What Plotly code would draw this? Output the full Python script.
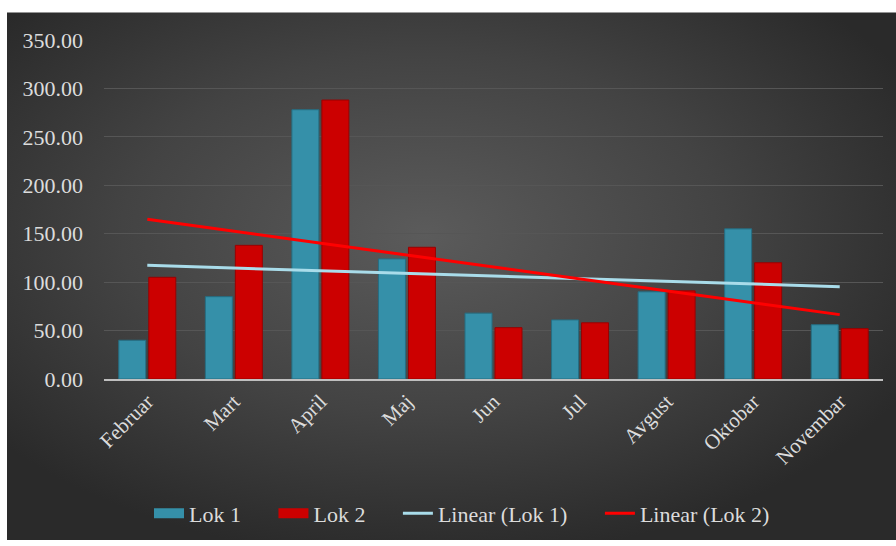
import base64
import numpy as np
import plotly.graph_objects as go

# Monthly values for the two locations
months = ["Februar", "Mart", "April", "Maj", "Jun", "Jul", "Avgust", "Oktobar", "Novembar"]
lok1 = [40, 85, 278, 124, 68, 61, 90, 155, 56]
lok2 = [105, 138, 288, 136, 53, 58, 91, 120, 52]
y_ticks = [0, 50, 100, 150, 200, 250, 300, 350]

# Least-squares linear trend over the month index
idx = np.arange(len(months))
trend1 = np.polyval(np.polyfit(idx, lok1, 1), idx)
trend2 = np.polyval(np.polyfit(idx, lok2, 1), idx)

W, H = 896, 546
L, R, T, B = 104, 13, 40, 163
pw, ph = W - L - R, H - T - B

# Radial grey gradient used as the chart backdrop
svg = (
    '<svg xmlns="http://www.w3.org/2000/svg" width="889" height="534" preserveAspectRatio="none">'
    '<defs><radialGradient id="g" cx="0.47" cy="0.42" r="0.62">'
    '<stop offset="0" stop-color="#5b5b5b"/><stop offset="0.55" stop-color="#434343"/>'
    '<stop offset="1" stop-color="#2a2a2a"/></radialGradient></defs>'
    '<rect width="889" height="534" fill="url(#g)"/></svg>'
)
bg_src = "data:image/svg+xml;base64," + base64.b64encode(svg.encode()).decode()

font_family = "Liberation Serif, Times New Roman, serif"
txt = "#dcdcdc"
teal, red = "#3590a9", "#cc0000"
pad = "\u00a0" * 5  # extra room between legend entries

fig = go.Figure()
fig.add_trace(go.Bar(x=months, y=lok1, name="Lok 1", showlegend=False, legendgroup="l1",
                     marker=dict(color=teal, line=dict(color="#256e83", width=1))))
fig.add_trace(go.Bar(x=months, y=lok2, name="Lok 2", showlegend=False, legendgroup="l2",
                     marker=dict(color=red, line=dict(color="#9a0000", width=1))))
# Wide legend swatches for the bar series
fig.add_trace(go.Scatter(x=[None], y=[None], mode="lines", name="Lok 1" + pad, legendgroup="l1",
                         line=dict(color=teal, width=13)))
fig.add_trace(go.Scatter(x=[None], y=[None], mode="lines", name="Lok 2" + pad, legendgroup="l2",
                         line=dict(color=red, width=13)))
fig.add_trace(go.Scatter(x=months, y=trend1, mode="lines", name="Linear (Lok 1)" + pad,
                         line=dict(color="#a9dcea", width=3)))
fig.add_trace(go.Scatter(x=months, y=trend2, mode="lines", name="Linear (Lok 2)",
                         line=dict(color="#ff0000", width=3)))

fig.add_layout_image(dict(
    source=bg_src, xref="paper", yref="paper",
    x=(7 - L) / pw, y=(T + ph - 12) / ph,
    sizex=(W - 7) / pw, sizey=(H - 12) / ph,
    sizing="stretch", xanchor="left", yanchor="top", layer="below",
))

fig.update_layout(
    width=W, height=H,
    margin=dict(l=L, r=R, t=T, b=B, pad=0),
    paper_bgcolor="white",
    plot_bgcolor="rgba(0,0,0,0)",
    barmode="group", bargap=0.307, bargroupgap=0.1,
    font=dict(family=font_family, color=txt, size=21),
    showlegend=True,
    legend=dict(orientation="h", x=(462 - L) / pw, xanchor="center",
                y=(T + ph - 519) / ph, yanchor="middle",
                font=dict(family=font_family, size=22, color=txt),
                itemwidth=30, bgcolor="rgba(0,0,0,0)", traceorder="normal"),
)
fig.update_xaxes(
    tickangle=-45, tickfont=dict(family=font_family, size=21, color=txt),
    showline=True, linecolor="#bfbfbf", linewidth=2, showgrid=False,
    ticks="", range=[-0.5, len(months) - 0.5],
)
fig.update_yaxes(
    range=[0, 350], tickvals=y_ticks, ticktext=[f"{v:.2f}" for v in y_ticks],
    tickfont=dict(family=font_family, size=22, color=txt),
    showgrid=True, gridcolor="#565656", gridwidth=1, zeroline=False,
    ticks="", ticklabelstandoff=20,
)

fig.write_html("out.html")
